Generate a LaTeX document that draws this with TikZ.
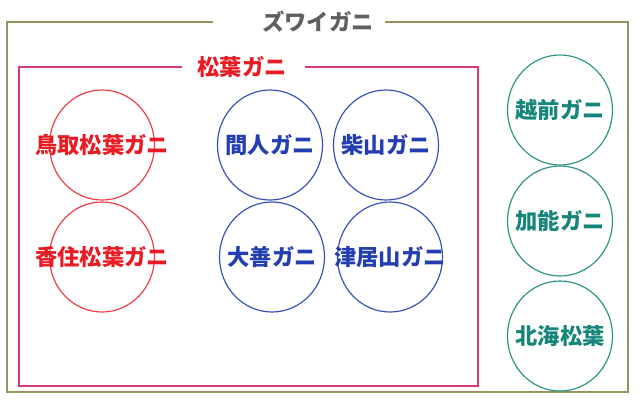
\documentclass[tikz,border=0pt]{standalone}
\usepackage{fontspec}
\newfontfamily\jpfont{Noto Sans CJK JP}
\usetikzlibrary{shapes.geometric}
\definecolor{framegold}{RGB}{150,146,92}
\definecolor{framepink}{RGB}{214,58,122}
\definecolor{crabred}{RGB}{232,28,36}
\definecolor{crabblue}{RGB}{34,62,176}
\definecolor{crabteal}{RGB}{22,134,122}
\definecolor{titlegray}{RGB}{96,96,96}
\begin{document}
\begin{tikzpicture}[x=0.03cm,y=-0.03cm]
\tikzstyle{every node}+=[inner sep=0pt, font=\jpfont\bfseries\fontsize{19}{19}\selectfont]
\tikzstyle{crab}=[ellipse, draw, line width=1pt, minimum width=3.15cm, minimum height=3.3cm]
\useasboundingbox (0,0) rectangle (640,401);
\fill [white] (0,0) rectangle (640,401);
\coordinate (zl) at (213,22);
\coordinate (zr) at (385,22);
\draw [framegold, line width=1.6pt] (zl) -| (7,392) -| (628,22) -- (zr);
\node [titlegray] (zwai) at (318,22) {ズワイガニ};
\coordinate (ml) at (182,67);
\coordinate (mr) at (305,67);
\draw [framepink, line width=1.3pt] (ml) -| (19,386) -| (478,67) -- (mr);
\node [crabred] (matsuba) at (242,67) {松葉ガニ};
\node [crab, crabred!85, label={[crabred]center:鳥取松葉ガニ}] (tottori) at (102,145) {};
\node [crab, crabred!85, label={[crabred]center:香住松葉ガニ}] (kasumi) at (102,257) {};
\node [crab, crabblue!90, label={[crabblue]center:間人ガニ}] (taiza) at (270,145) {};
\node [crab, crabblue!90, label={[crabblue]center:柴山ガニ}] (shibayama) at (386,145) {};
\node [crab, crabblue!90, label={[crabblue]center:大善ガニ}] (daizen) at (272,257) {};
\node [crab, crabblue!90, label={[crabblue]center:津居山ガニ}] (tsuiyama) at (390,257) {};
\node [crab, crabteal!90, label={[crabteal]center:越前ガニ}] (echizen) at (560,110) {};
\node [crab, crabteal!90, label={[crabteal]center:加能ガニ}] (kanou) at (560,221) {};
\node [crab, crabteal!90, label={[crabteal]center:北海松葉}] (hokkai) at (560,336) {};
\end{tikzpicture}
\end{document}
